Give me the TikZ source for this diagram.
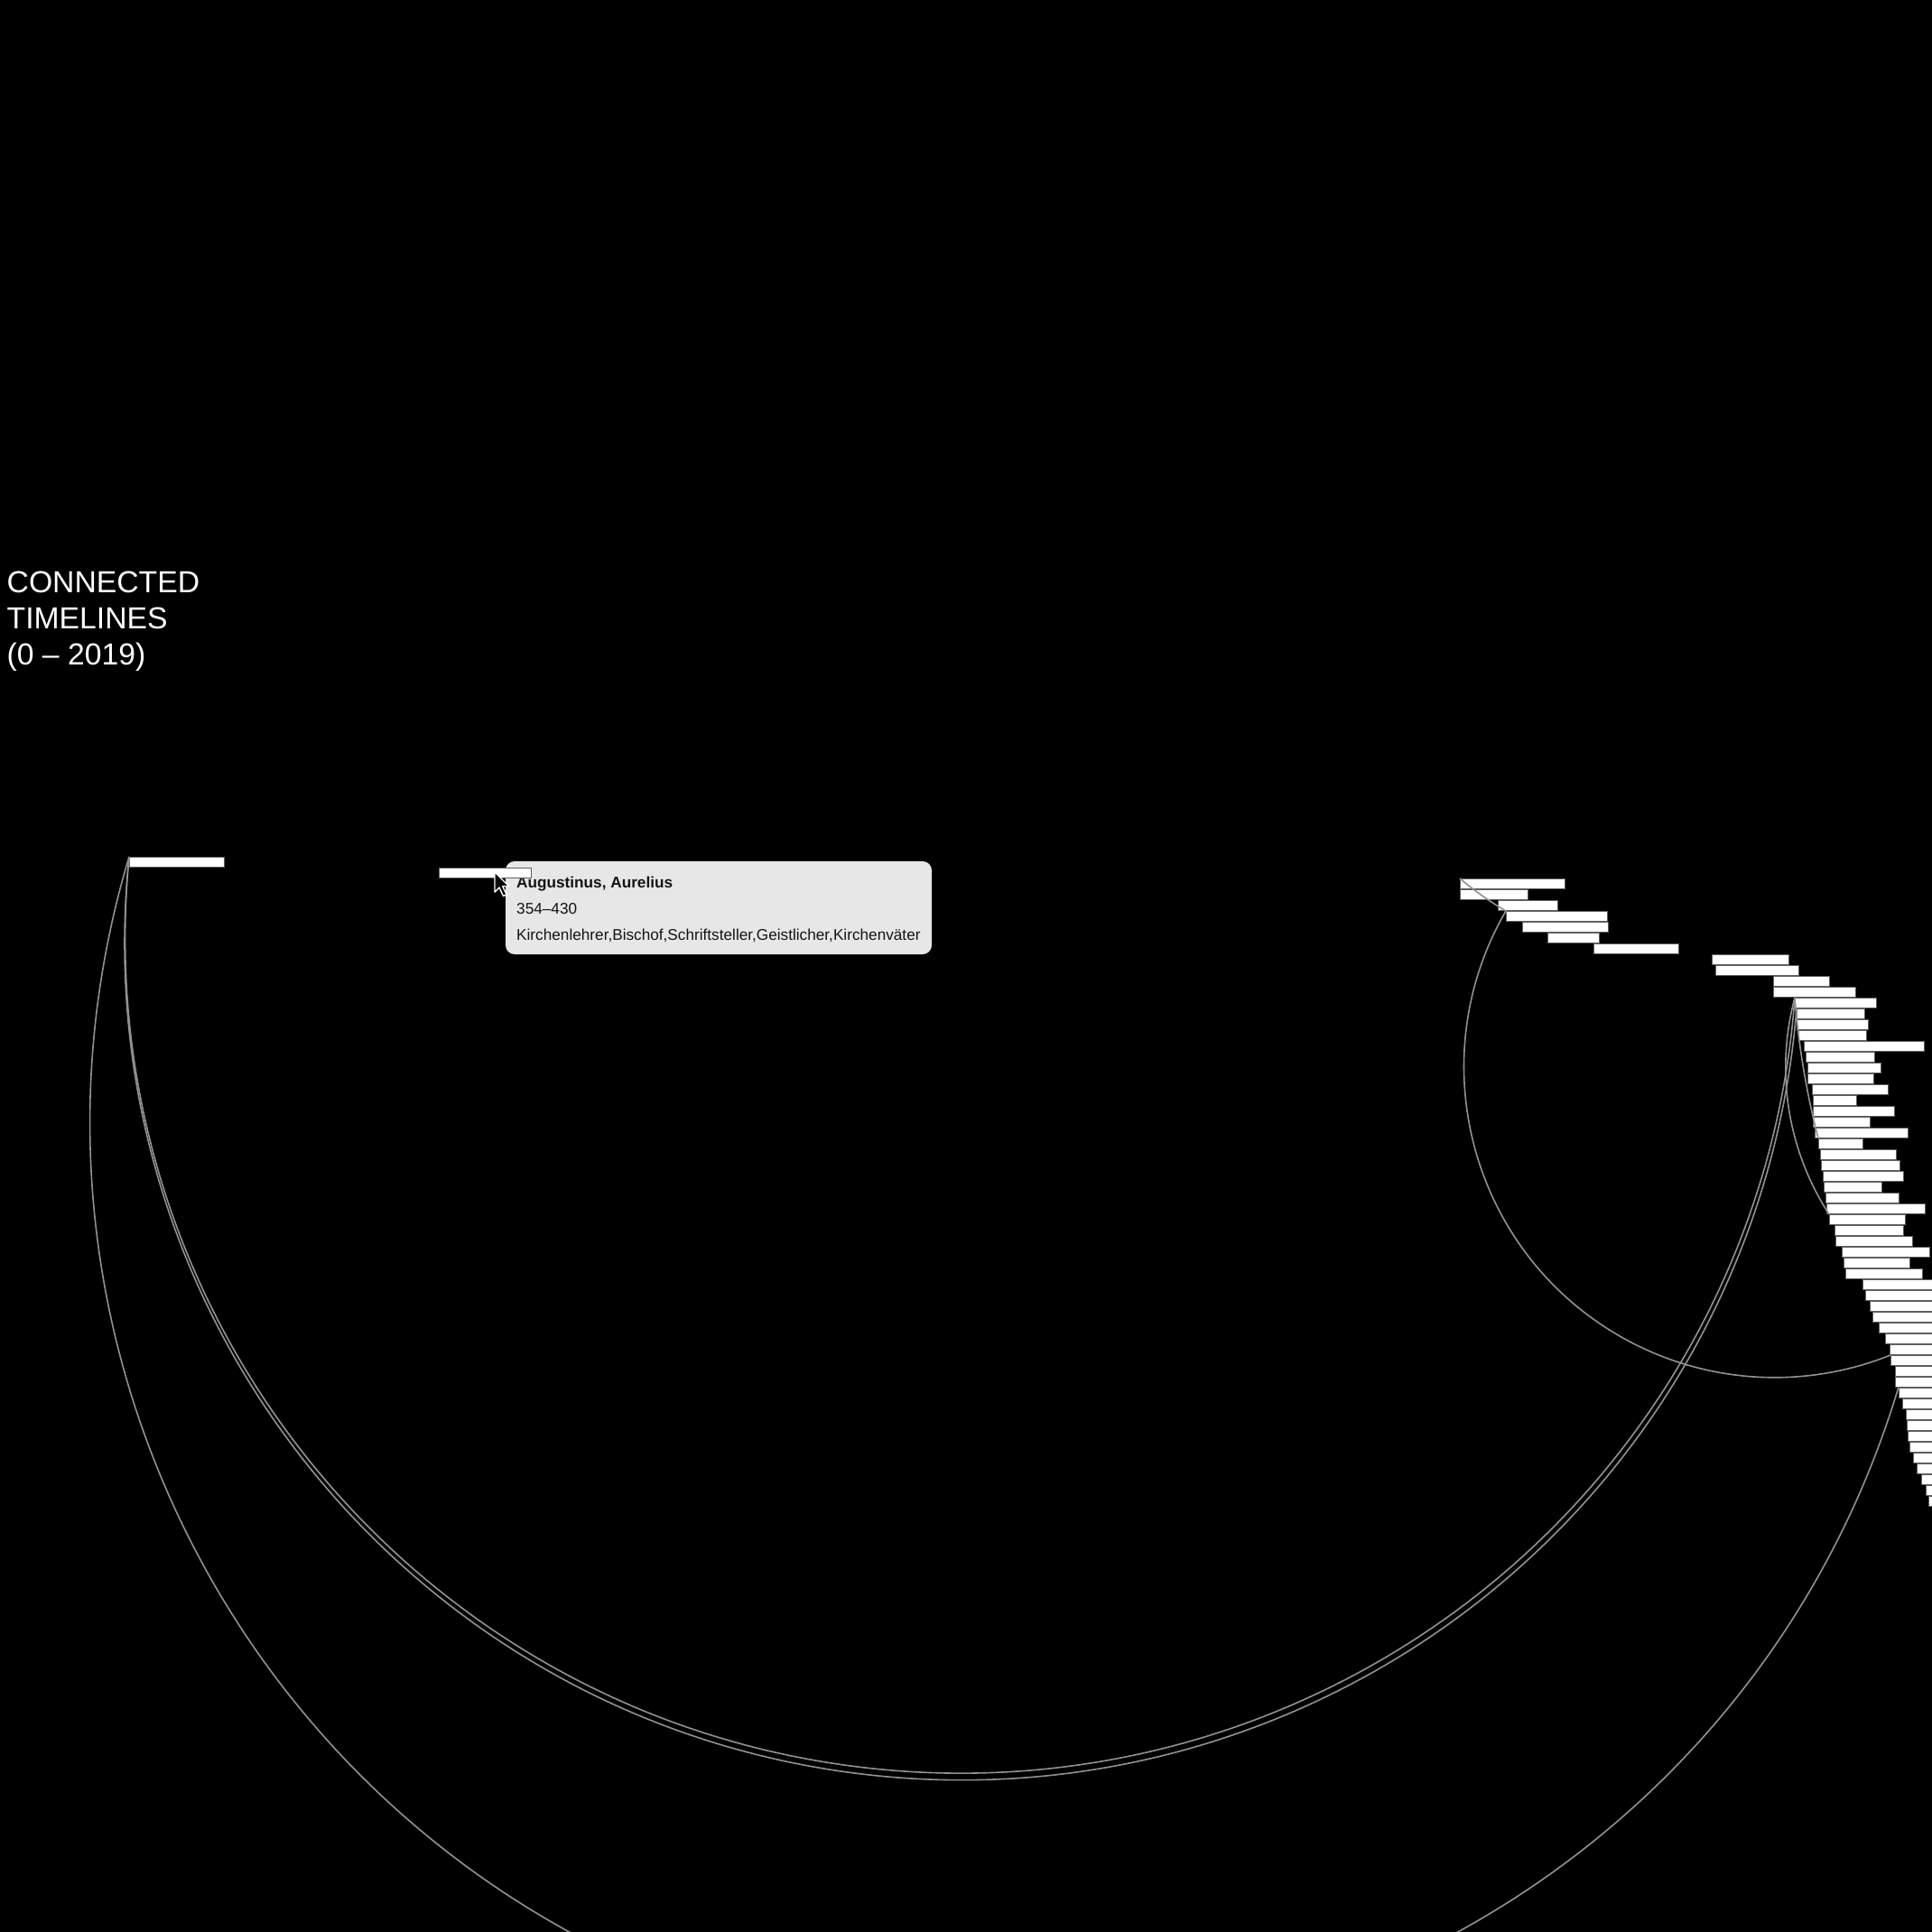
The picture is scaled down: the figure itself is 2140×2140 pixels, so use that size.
\documentclass[tikz,border=0pt]{standalone}
\usepackage{fontspec}
\setmainfont{Liberation Sans}
\usetikzlibrary{calc}

\definecolor{linkgray}{RGB}{145,145,145}
\definecolor{barline}{RGB}{95,95,95}
\definecolor{tipfill}{RGB}{231,231,231}

\tikzset{
  bar/.style={draw=barline, fill=white, line width=0.8pt, inner sep=0pt, outer sep=0pt,
    minimum height=11pt, anchor=north west},
  link/.style={draw=linkgray, line width=1.6pt},
  tipbox/.style={fill=tipfill, rounded corners=10pt, inner sep=0pt, outer sep=0pt,
    minimum width=472pt, minimum height=103pt, anchor=north west},
  tiptext/.style={anchor=base west, inner sep=0pt, text=black!92,
    font=\fontsize{17.2}{20}\selectfont},
  titletext/.style={anchor=north west, inner sep=0pt, text=white, align=left,
    font=\fontsize{33.7}{39.7}\selectfont}
}

% arc from one bar corner to another, bulging to the right, sweep #3
\newcommand\linkarc[3]{
  \draw[link] let \p1=(#1.north west), \p2=(#2.north west),
    \n1={atan2(\y2-\y1,\x2-\x1)},
    \n2={veclen(\x2-\x1,\y2-\y1)/(2*sin(#3/2))} in
    (\p1) arc[start angle={\n1-90-#3/2}, delta angle=#3, radius=\n2];
}

\begin{document}
\begin{tikzpicture}[x=1pt, y=-1pt]
 \useasboundingbox (0,0) rectangle (2140,2140);
 \fill[black] (0,0) rectangle (2140,2140);
 \clip (0,0) rectangle (2140,2140);

 % title
 \node[titletext] (title) at (7.5,633) {CONNECTED\\TIMELINES\\(0 – 2019)};

 % tooltip
 \node[tipbox] (tip) at (560,954) {};
 \node[tiptext] (tipname) at (572,983) {\bfseries Augustinus, Aurelius};
 \node[tiptext] (tipdates) at (572,1012) {354–430};
 \node[tiptext] (tiptags) at (572,1041) {Kirchenlehrer,Bischof,Schriftsteller,Geistlicher,Kirchenväter};

 % bars
 \foreach \i/\xa/\xb in {0/143/248, 1/486/588,
   2/1617/1733, 3/1617/1692, 4/1659/1725, 5/1668/1780, 6/1686/1781, 7/1714/1771, 8/1765/1859,
   9/1896/1981, 10/1900/1992, 11/1964/2026, 12/1964/2055, 13/1988/2078, 14/1990/2065,
   15/1990/2069, 16/1992/2067, 17/1998/2131, 18/2000/2076, 19/2002/2083, 20/2002/2075,
   21/2007/2091, 22/2008/2056, 23/2008/2098, 24/2008/2071, 25/2010/2113, 26/2014/2063,
   27/2016/2100, 28/2017/2104, 29/2019/2108, 30/2020/2084, 31/2022/2103, 32/2023/2132,
   33/2026/2110, 34/2032/2108, 35/2033/2118, 36/2040/2137, 37/2042/2115, 38/2044/2129,
   39/2063/2150, 40/2066/2150, 41/2071/2150, 42/2074/2150, 43/2081/2150, 44/2088/2150,
   45/2093/2150, 46/2094/2150, 47/2099/2150, 48/2099/2150, 49/2103/2150, 50/2107/2150,
   51/2111/2150, 52/2112/2150, 53/2113/2150, 54/2115/2150, 55/2119/2150, 56/2123/2150,
   57/2128/2150, 58/2133/2150, 59/2136/2150} {
   \node[bar, minimum width={\xb-\xa}] (b\i) at (\xa,{949+12*\i}) {};
 }

 % links
 \linkarc{b0}{b49}{180}
 \linkarc{b0}{b13}{181.4}
 \linkarc{b0}{b14}{181.4}
 \linkarc{b13}{b33}{48}
 \linkarc{b13}{b26}{10}
 \linkarc{b2}{b5}{10}
 \linkarc{b5}{b46}{142}

 % mouse pointer
 \draw[fill=black, draw=white, line width=1.4pt, line join=round]
   (548,966) -- ++(0,22) -- ++(5,-5) -- ++(4.5,9.5) -- ++(3.6,-1.6)
   -- ++(-4.4,-9.2) -- ++(7,0) -- cycle;
\end{tikzpicture}
\end{document}
